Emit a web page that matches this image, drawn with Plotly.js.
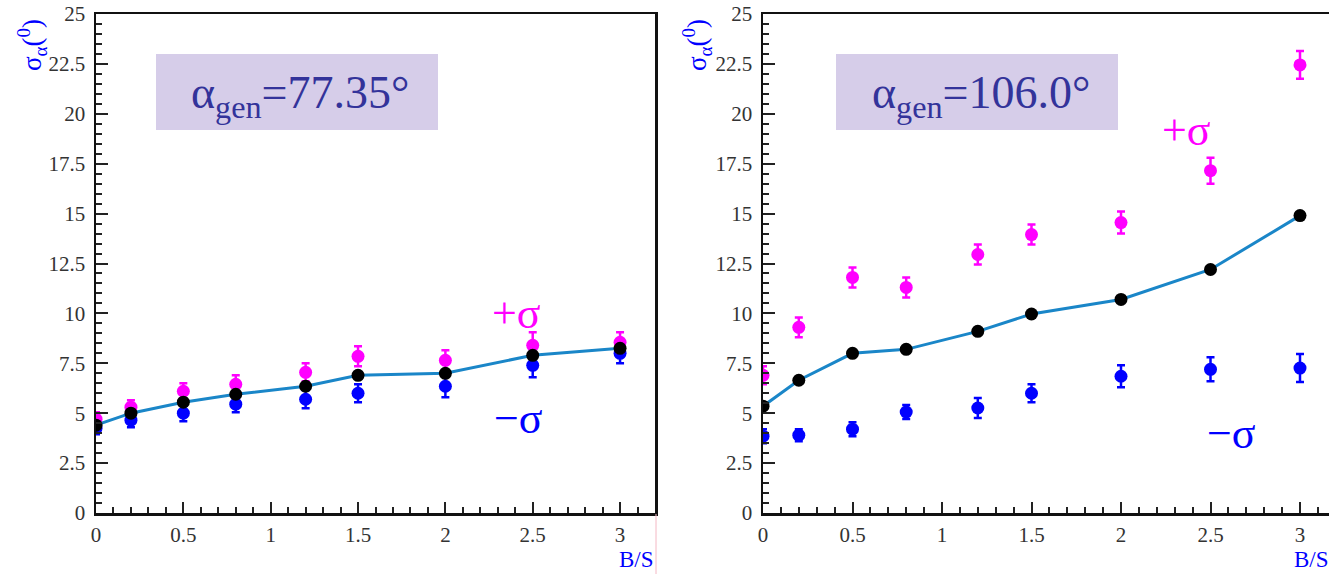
<!DOCTYPE html>
<html>
<head>
<meta charset="utf-8">
<script src="https://cdn.plot.ly/plotly-3.0.1.min.js"></script>
<style>html,body{margin:0;padding:0;background:#fff;}#chart{width:1329px;height:574px;}</style>
</head>
<body>
<div id="chart"></div>
<script>
// B/S values
const bs = [0, 0.2, 0.5, 0.8, 1.2, 1.5, 2.0, 2.5, 3.0];

// Panel 1: alpha_gen = 77.35 deg
const p1Central = [4.4, 5.0, 5.55, 5.95, 6.35, 6.9, 7.0, 7.9, 8.25];
const p1Plus    = [4.7, 5.3, 6.1, 6.45, 7.05, 7.85, 7.65, 8.4, 8.55];
const p1PlusErr = [0.35, 0.35, 0.4, 0.45, 0.45, 0.5, 0.5, 0.65, 0.5];
const p1Minus   = [4.25, 4.65, 5.0, 5.45, 5.7, 6.0, 6.35, 7.4, 8.0];
const p1MinusErr= [0.3, 0.35, 0.4, 0.4, 0.45, 0.45, 0.55, 0.6, 0.5];

// Panel 2: alpha_gen = 106.0 deg
const p2Central = [5.35, 6.65, 8.0, 8.2, 9.1, 9.97, 10.7, 12.2, 14.9];
const p2Plus    = [6.9, 9.3, 11.8, 11.3, 12.95, 13.95, 14.55, 17.15, 22.45];
const p2PlusErr = [0.45, 0.5, 0.5, 0.5, 0.5, 0.5, 0.55, 0.65, 0.7];
const p2Minus   = [3.85, 3.9, 4.2, 5.06, 5.26, 6.0, 6.85, 7.2, 7.26];
const p2MinusErr= [0.35, 0.3, 0.35, 0.35, 0.5, 0.45, 0.55, 0.6, 0.7];

const labels = ["α<sub>gen</sub>=77.35°", "α<sub>gen</sub>=106.0°"];
const yTicks = [0, 2.5, 5, 7.5, 10, 12.5, 15, 17.5, 20, 22.5, 25];
const yTickText = ["0", "2.5", "5", "7.5", "10", "12.5", "15", "17.5", "20", "22.5", "25"];
const xTicks = [0, 0.5, 1, 1.5, 2, 2.5, 3];
const xTickText = ["0", "0.5", "1", "1.5", "2", "2.5", "3"];

const W = 1329, H = 574;
const MAG = '#ff00ff', BLU = '#0000ff', LINE = '#1a86c8';

function panelTraces(xa, ya, c, p, pe, m, me) {
  return [
    {x: bs, y: m, xaxis: xa, yaxis: ya, type: 'scatter', mode: 'markers',
     marker: {color: BLU, size: 13},
     error_y: {type: 'data', array: me, visible: true, color: BLU, thickness: 2.5, width: 4}},
    {x: bs, y: p, xaxis: xa, yaxis: ya, type: 'scatter', mode: 'markers',
     marker: {color: MAG, size: 13},
     error_y: {type: 'data', array: pe, visible: true, color: MAG, thickness: 2.5, width: 4}},
    {x: bs, y: c, xaxis: xa, yaxis: ya, type: 'scatter', mode: 'lines+markers',
     line: {color: LINE, width: 3},
     marker: {color: '#000000', size: 13}}
  ];
}

const data = [
  ...panelTraces('x', 'y', p1Central, p1Plus, p1PlusErr, p1Minus, p1MinusErr),
  ...panelTraces('x2', 'y2', p2Central, p2Plus, p2PlusErr, p2Minus, p2MinusErr)
];

const serif = 'Liberation Serif, Times New Roman, serif';
const tickFont = {family: serif, size: 21, color: '#333333'};
function xAxis(domain, range, anchor) {
  return {
    domain: domain, range: range, anchor: anchor,
    tickvals: xTicks, ticktext: xTickText, tickfont: tickFont,
    ticks: 'inside', ticklen: 11, tickwidth: 2, tickcolor: '#222',
    minor: {dtick: 0.1, tick0: 0, ticks: 'inside', ticklen: 6, tickwidth: 2, tickcolor: '#222', showgrid: false},
    showline: true, linecolor: '#111', linewidth: 2.5, mirror: true,
    showgrid: false, zeroline: false, fixedrange: true, ticklabelstandoff: 1
  };
}
function yAxis(anchor) {
  return {
    domain: [(H - 513) / H, (H - 14) / H], range: [0, 25], anchor: anchor,
    tickvals: yTicks, ticktext: yTickText, tickfont: tickFont,
    ticks: 'inside', ticklen: 12, tickwidth: 2, tickcolor: '#222',
    minor: {dtick: 0.5, tick0: 0, ticks: 'inside', ticklen: 6, tickwidth: 2, tickcolor: '#222', showgrid: false},
    showline: true, linecolor: '#111', linewidth: 2.5, mirror: true,
    showgrid: false, zeroline: false, fixedrange: true, ticklabelstandoff: 4
  };
}

const annotations = [];
const shapes = [];
const boxes = [[156, 438], [836, 1118]];
boxes.forEach((b, i) => {
  shapes.push({type: 'rect', xref: 'paper', yref: 'paper', layer: 'below',
    x0: b[0] / W, x1: b[1] / W, y0: (H - 130) / H, y1: (H - 54) / H,
    fillcolor: '#d6cde9', line: {width: 0}});
  annotations.push({xref: 'paper', yref: 'paper', x: (b[0] + b[1]) / 2 / W + (i === 0 ? 0.002 : 0.003), y: (H - 96) / H,
    text: labels[i], showarrow: false, xanchor: 'center', yanchor: 'middle',
    font: {family: serif, size: 46, color: '#33339a'}});
  // y axis title
  annotations.push({xref: 'paper', yref: 'paper', x: (i === 0 ? 32 : 697) / W, y: (H - 45) / H,
    text: 'σ<sub>α</sub>(<sup>0</sup>)', textangle: -90, showarrow: false,
    xanchor: 'center', yanchor: 'middle', font: {family: serif, size: 27, color: BLU}});
});
// B/S labels
annotations.push({xref: 'paper', yref: 'paper', x: 656 / W, y: 0, text: 'B/S',
  showarrow: false, xanchor: 'right', yanchor: 'bottom', font: {family: serif, size: 23, color: BLU}});
annotations.push({xref: 'paper', yref: 'paper', x: 1331 / W, y: 0, text: 'B/S',
  showarrow: false, xanchor: 'right', yanchor: 'bottom', font: {family: serif, size: 23, color: BLU}});
// sigma labels
const sigFont = (c) => ({family: serif, size: 44, color: c});
annotations.push({xref: 'paper', yref: 'paper', x: 516 / W, y: (H - 313) / H, text: '+σ',
  showarrow: false, xanchor: 'center', yanchor: 'middle', font: sigFont(MAG)});
annotations.push({xref: 'paper', yref: 'paper', x: 518 / W, y: (H - 418) / H, text: '−σ',
  showarrow: false, xanchor: 'center', yanchor: 'middle', font: sigFont(BLU)});
annotations.push({xref: 'paper', yref: 'paper', x: 1186 / W, y: (H - 130) / H, text: '+σ',
  showarrow: false, xanchor: 'center', yanchor: 'middle', font: sigFont(MAG)});
annotations.push({xref: 'paper', yref: 'paper', x: 1231 / W, y: (H - 433) / H, text: '−σ',
  showarrow: false, xanchor: 'center', yanchor: 'middle', font: sigFont(BLU)});
// faint pink separator line
shapes.push({type: 'line', xref: 'paper', yref: 'paper', x0: 656 / W, x1: 656 / W,
  y0: 0, y1: (H - 514) / H, line: {color: '#f4b8c4', width: 1}});

const layout = {
  width: W, height: H,
  margin: {l: 0, r: 0, t: 0, b: 0},
  paper_bgcolor: '#ffffff', plot_bgcolor: '#ffffff',
  showlegend: false,
  xaxis: xAxis([96 / W, 655 / W], [0, 3.2], 'y'),
  yaxis: yAxis('x'),
  xaxis2: xAxis([763 / W, 1], [0, 566 / 179], 'y2'),
  yaxis2: yAxis('x2'),
  annotations: annotations,
  shapes: shapes
};

Plotly.newPlot('chart', data, layout, {displayModeBar: false, staticPlot: true});
</script>
</body>
</html>
